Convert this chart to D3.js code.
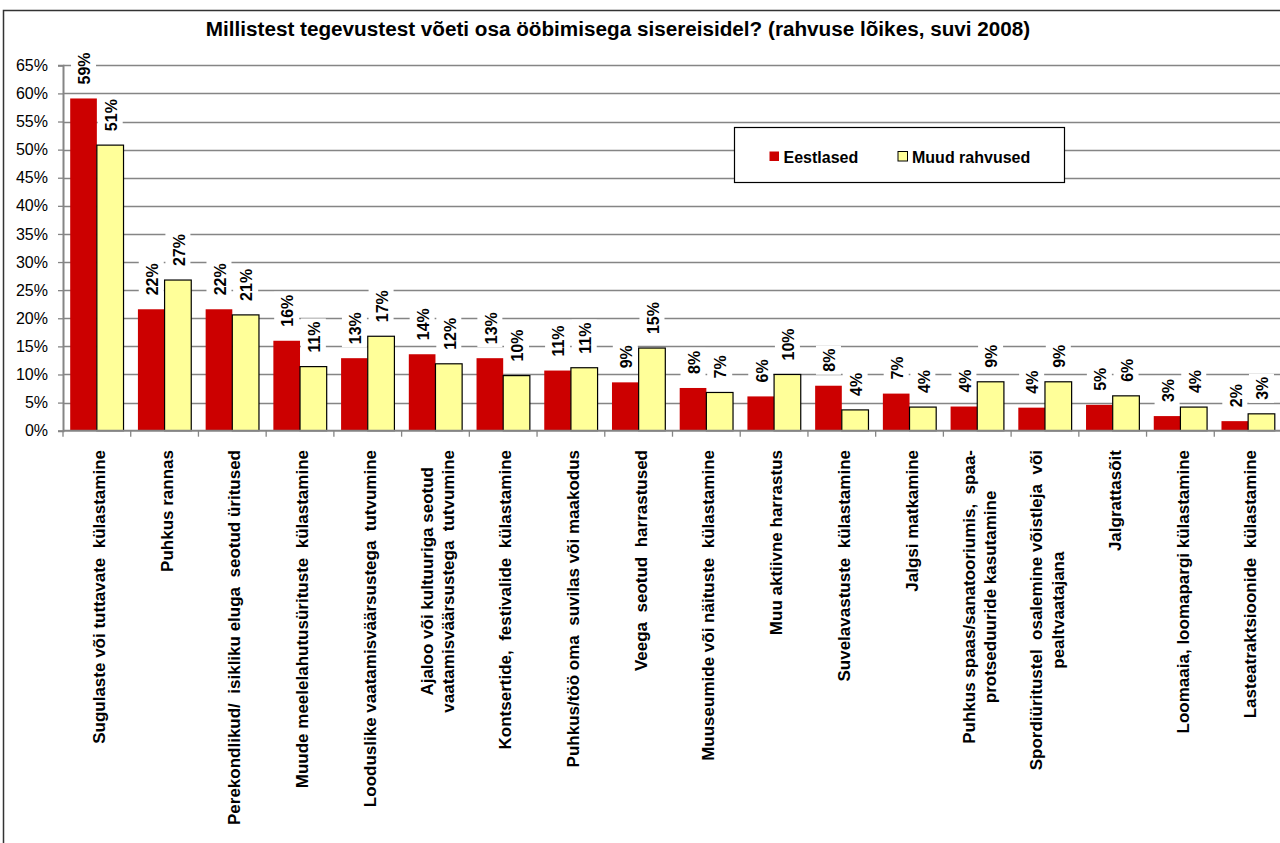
<!DOCTYPE html>
<html>
<head>
<meta charset="utf-8">
<script src="https://cdnjs.cloudflare.com/ajax/libs/d3/7.8.5/d3.min.js"></script>
<style>
  body { margin: 0; background: #fff; }
  text { font-family: "Liberation Sans", Arial, sans-serif; }
</style>
</head>
<body>
<div id="chart"></div>
<script>
// chart data
var categories = [
    ["Sugulaste või tuttavate  külastamine"],
    ["Puhkus rannas"],
    ["Perekondlikud/  isikliku eluga  seotud üritused"],
    ["Muude meelelahutusürituste  külastamine"],
    ["Looduslike vaatamisväärsustega  tutvumine"],
    ["Ajaloo või kultuuriga seotud", "vaatamisväärsustega  tutvumine"],
    ["Kontsertide,  festivalide  külastamine"],
    ["Puhkus/töö oma  suvilas või maakodus"],
    ["Veega  seotud  harrastused"],
    ["Muuseumide või näituste  külastamine"],
    ["Muu aktiivne harrastus"],
    ["Suvelavastuste  külastamine"],
    ["Jalgsi matkamine"],
    ["Puhkus spaas/sanatooriumis,  spaa-", "protseduuride kasutamine"],
    ["Spordiüritustel  osalemine võistleja  või", "pealtvaatajana"],
    ["Jalgrattasõit"],
    ["Loomaaia, loomapargi külastamine"],
    ["Lasteatraktsioonide  külastamine"]
];
var seriesNames = ["Eestlased", "Muud rahvused"];
var eestlased = [59.1, 21.6, 21.6, 16.0, 12.9, 13.6, 12.9, 10.7, 8.6, 7.6, 6.1, 8.0, 6.6, 4.3, 4.1, 4.6, 2.6, 1.7];
var muudRahvused = [50.8, 26.8, 20.6, 11.4, 16.8, 11.9, 9.8, 11.2, 14.7, 6.8, 10.0, 3.7, 4.2, 8.7, 8.7, 6.2, 4.2, 3.0];
var yTicks = [0, 5, 10, 15, 20, 25, 30, 35, 40, 45, 50, 55, 60, 65];
var title = "Millistest tegevustest võeti osa ööbimisega sisereisidel? (rahvuse lõikes, suvi 2008)";
var colors = ["#CC0000", "#FFFF99"];

var svgWidth = 1280;
var svgHeight = 843;

var plot = { left: 63, right: 1282, top: 65.3, bottom: 430.7 };

var svg = d3.select("#chart")
    .append("svg")
    .attr("width", svgWidth)
    .attr("height", svgHeight);

svg.append("rect")
    .attr("width", svgWidth)
    .attr("height", svgHeight)
    .attr("fill", "#fff");

// outer chart border (cut off on right / bottom like the original)
svg.append("rect")
    .attr("x", 3.5)
    .attr("y", 10.5)
    .attr("width", 1320)
    .attr("height", 900)
    .attr("fill", "none")
    .attr("stroke", "#333")
    .attr("stroke-width", 1.5);

svg.append("text")
    .attr("x", 618)
    .attr("y", 36)
    .attr("text-anchor", "middle")
    .attr("font-size", "20.7px")
    .attr("font-weight", "bold")
    .text(title);

var data = categories.map((c, i) => ({
    label: c,
    values: [eestlased[i], muudRahvused[i]]
}));

var x0 = d3.scaleBand()
    .domain(d3.range(categories.length))
    .range([plot.left, plot.right]);

var x1 = d3.scaleBand()
    .domain(d3.range(seriesNames.length))
    .range([0, x0.bandwidth()])
    .paddingOuter(0.27);

var y = d3.scaleLinear()
    .domain([0, 65])
    .range([plot.bottom, plot.top]);

// gridlines
svg.append("g")
    .selectAll("line")
    .data(yTicks.filter(t => t > 0))
    .enter()
    .append("line")
    .attr("x1", plot.left)
    .attr("x2", plot.right)
    .attr("y1", d => Math.round(y(d)) + 0.5)
    .attr("y2", d => Math.round(y(d)) + 0.5)
    .attr("stroke", "#858585")
    .attr("stroke-width", 1.3);

// y axis
var yAxis = d3.axisLeft(y)
    .tickValues(yTicks)
    .tickSize(5)
    .tickPadding(10)
    .tickFormat(d => d + "%");

var yAxisG = svg.append("g")
    .attr("transform", `translate(${plot.left}, 0)`)
    .call(yAxis);
yAxisG.select(".domain").attr("stroke", "#858585").attr("stroke-width", 2);
yAxisG.selectAll(".tick line").attr("stroke", "#858585").attr("stroke-width", 1.3);
yAxisG.selectAll(".tick text")
    .attr("font-size", "16px")
    .attr("font-family", "Liberation Sans, Arial, sans-serif")
    .attr("fill", "#000");

var groups = svg.append("g")
    .selectAll("g")
    .data(data)
    .enter()
    .append("g")
    .attr("transform", (d, i) => `translate(${x0(i)}, 0)`);

var bars = groups.selectAll("g.bar")
    .data(d => d.values.map((v, s) => ({ v: v, s: s })))
    .enter()
    .append("g")
    .classed("bar", true);

// white boxes behind the value labels (hide gridlines)
bars.append("rect")
    .attr("fill", "#fff");

bars.append("rect")
    .attr("x", d => x1(d.s))
    .attr("y", d => y(d.v))
    .attr("width", x1.bandwidth())
    .attr("height", d => plot.bottom - y(d.v))
    .attr("fill", d => colors[d.s])
    .attr("stroke", d => d.s == 1 ? "#000" : "none")
    .attr("stroke-width", 1.2);

var valueLabels = bars.append("text")
    .attr("transform", d => `translate(${x1(d.s) + x1.bandwidth() / 2 + 1}, ${y(d.v) - 14}) rotate(-90)`)
    .attr("dy", "0.36em")
    .attr("font-size", "16px")
    .attr("font-weight", "bold")
    .text(d => Math.round(d.v) + "%");

valueLabels.each(function (d) {
    var len = this.getComputedTextLength();
    d3.select(this.parentNode).select("rect")
        .attr("x", x1(d.s) + x1.bandwidth() / 2 - 12.5)
        .attr("y", y(d.v) - 14 - len - 3)
        .attr("width", 25)
        .attr("height", len + 6);
});

// x axis line and ticks
svg.append("line")
    .attr("x1", plot.left)
    .attr("x2", plot.right)
    .attr("y1", plot.bottom)
    .attr("y2", plot.bottom)
    .attr("stroke", "#858585")
    .attr("stroke-width", 2);

svg.append("g")
    .selectAll("line")
    .data(d3.range(categories.length + 1))
    .enter()
    .append("line")
    .attr("x1", i => i < categories.length ? x0(i) : plot.right)
    .attr("x2", i => i < categories.length ? x0(i) : plot.right)
    .attr("y1", plot.bottom)
    .attr("y2", plot.bottom + 6)
    .attr("stroke", "#858585")
    .attr("stroke-width", 1.3);

// category labels
var lineH = 21.5;
var labelTop = 450;
var catLabels = svg.append("g")
    .selectAll("g")
    .data(data)
    .enter()
    .append("g");

catLabels.each(function (d, i) {
    var g = d3.select(this);
    var n = d.label.length;
    var cx = x0(i) + x0.bandwidth() / 2 + 2;
    var texts = g.selectAll("text")
        .data(d.label)
        .enter()
        .append("text")
        .attr("font-size", "17px")
        .attr("font-weight", "bold")
        .attr("text-anchor", "middle")
        .attr("dy", "0.36em")
        .style("white-space", "pre")
        .text(t => t);
    var maxLen = 0;
    texts.each(function () {
        maxLen = Math.max(maxLen, this.getComputedTextLength());
    });
    texts.attr("transform", (t, k) =>
        `translate(${cx + (k - (n - 1) / 2) * lineH}, ${labelTop + maxLen / 2}) rotate(-90)`);
});

// legend
var legend = svg.append("g");
legend.append("rect")
    .attr("x", 734.5)
    .attr("y", 127.5)
    .attr("width", 330)
    .attr("height", 55)
    .attr("fill", "#fff")
    .attr("stroke", "#000")
    .attr("stroke-width", 1.2);

var legendX = [769.5, 898];
seriesNames.forEach((name, s) => {
    legend.append("rect")
        .attr("x", legendX[s])
        .attr("y", 151.5)
        .attr("width", 9.5)
        .attr("height", 9.5)
        .attr("fill", colors[s])
        .attr("stroke", s == 1 ? "#000" : "none");
    legend.append("text")
        .attr("x", legendX[s] + 14)
        .attr("y", 163)
        .attr("font-size", "16px")
        .attr("font-weight", "bold")
        .text(name);
});
</script>
</body>
</html>
